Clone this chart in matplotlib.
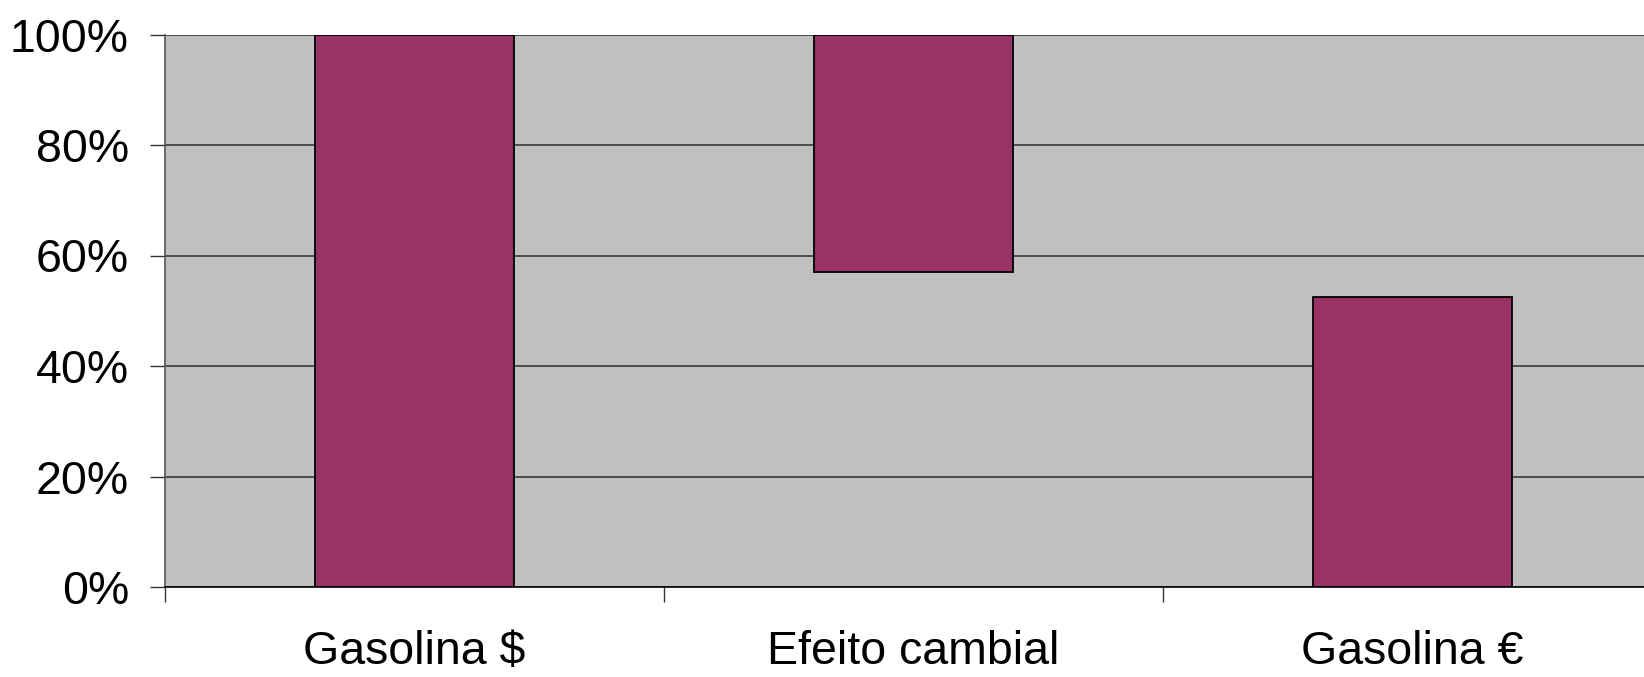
import matplotlib.pyplot as plt
from matplotlib.ticker import FixedLocator, PercentFormatter

# categories and floating-bar extents (share of the dollar gasoline price)
categories = ['Gasolina $', 'Efeito cambial', 'Gasolina €']
bar_bottom = [0.0, 0.57, 0.0]
bar_top = [1.0, 1.0, 0.525]
y_ticks = [0.0, 0.2, 0.4, 0.6, 0.8, 1.0]

plt.rcParams['font.family'] = ['Liberation Sans', 'DejaVu Sans']

fig = plt.figure(figsize=(16.44, 6.77), dpi=100)
# plot area runs a little past the right edge of the figure
ax = fig.add_axes([165 / 1644, 90 / 677, 1497 / 1644, 552.5 / 677])
ax.set_facecolor('#C0C0C0')

pos = list(range(len(categories)))
heights = [t - b for t, b in zip(bar_top, bar_bottom)]
ax.bar(pos, heights, bottom=bar_bottom, width=0.4, color='#993366',
       edgecolor='black', linewidth=1.3, zorder=3)

ax.set_xlim(-0.5, len(categories) - 0.5)
ax.set_ylim(0, 1)

ax.yaxis.set_major_locator(FixedLocator(y_ticks))
ax.yaxis.set_major_formatter(PercentFormatter(1.0, decimals=0))
ax.grid(axis='y', color='#2e2e2e', linewidth=1.1, zorder=1)
ax.set_axisbelow(True)

# boundary ticks between categories, labels centred on the bars
ax.xaxis.set_major_locator(FixedLocator([p - 0.5 for p in pos]))
ax.xaxis.set_major_formatter(plt.NullFormatter())
ax.xaxis.set_minor_locator(FixedLocator(pos))
ax.set_xticklabels(categories, minor=True)

ax.tick_params(axis='y', length=11, width=1, color='#333333', pad=15,
               labelsize=33.5)
ax.tick_params(axis='x', which='major', length=11, width=1, color='#333333')
ax.tick_params(axis='x', which='minor', length=0, pad=31, labelsize=33.5)

for side in ['top', 'right']:
    ax.spines[side].set_visible(False)
ax.spines['left'].set_color('#555555')
ax.spines['left'].set_linewidth(1.2)
ax.spines['bottom'].set_color('black')
ax.spines['bottom'].set_linewidth(1.2)

fig.savefig('out.png', dpi=100)
